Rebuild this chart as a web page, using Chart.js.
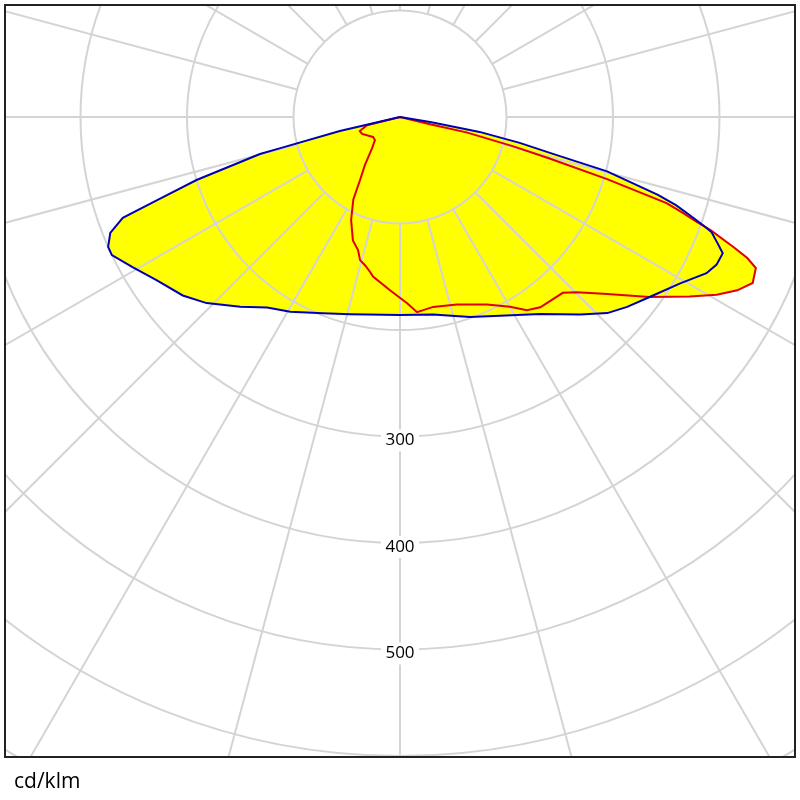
<!DOCTYPE html>
<html>
<head>
<meta charset="utf-8">
<script src="https://cdn.jsdelivr.net/npm/chart.js@4.4.1/dist/chart.umd.min.js"></script>
<style>
html, body { margin: 0; padding: 0; background: #fff; }
</style>
</head>
<body>
<canvas id="polarChart" width="800" height="800"></canvas>
<script>
// angles are measured from nadir in degrees, negative = left half of the plane
// C0-C180 plane (blue)
const blueAngles = [-90, -77, -75.4, -75.2, -72.8, -71.1, -70, -68.2, -66, -64.4, -60.7, -56.1, -50.6, -46.1, -40.1, -34.9, -29.4, -21.4, -14.2, 0, 9.5, 19.3, 26.7, 35.4, 42.4, 46.6, 50.1, 54.2, 59.3, 63, 65, 67.1, 68.3, 69.7, 70.3, 71.3, 72.3, 73.2, 75.3, 76.4, 77.8, 79.4, 80.5, 90];
const blueValues = [0, 58, 116, 136, 200, 241, 277, 293, 300, 300, 288, 275, 264, 252, 233, 218, 210, 198, 191, 186, 188, 199, 209, 227, 251, 268, 278, 289, 306, 323, 328, 329, 321, 312, 303, 287, 272, 253, 201, 150, 115, 76, 30, 0];

// C90-C270 plane (red)
const redAngles = [-90, -76, -70.7, -65.9, -53.5, -47.4, -42, -36.1, -32.4, -29.5, -25.4, -20.9, -17.5, -15.6, -13.3, -11, -9.6, -3.3, 2.2, 5, 9.9, 16.9, 24.9, 30.1, 33.3, 36.4, 42.8, 45.3, 49.5, 54.2, 58.2, 60.7, 62.8, 64.8, 67, 67.9, 68.7, 70, 70.5, 71.3, 72.1, 73.3, 74.5, 75.5, 77, 76.5, 90];
const redValues = [0, 32, 40, 39, 31.5, 32, 39, 56, 70, 89, 107, 124, 131, 139.5, 143, 148, 152, 163, 175, 184, 181, 184, 194, 206, 217, 222, 225, 234, 256, 289, 320, 341, 356, 366, 363, 352, 336, 310, 296, 280, 263, 203, 145, 110, 64, 30, 0];

const rings = [100, 200, 300, 400, 500, 600, 700];
const ringLabels = [300, 400, 500];
const spokeStep = 15;
const unitLabel = "cd/klm";

function toXY(angles, values) {
    return angles.map((a, i) => {
        let rad = a * Math.PI / 180;
        return { x: values[i] * Math.sin(rad), y: -values[i] * Math.cos(rad) };
    });
}

// grid goes over the yellow fill but under the curves
const polarGrid = {
    id: "polarGrid",
    beforeDatasetsDraw(chart) {
        const { ctx, chartArea, scales } = chart;
        const cx = scales.x.getPixelForValue(0);
        const cy = scales.y.getPixelForValue(0);
        const rad = v => scales.x.getPixelForValue(v) - cx;

        ctx.save();
        ctx.beginPath();
        ctx.rect(chartArea.left, chartArea.top, chartArea.width, chartArea.height);
        ctx.clip();

        ctx.strokeStyle = "#d4d4d4";
        ctx.lineWidth = 2;
        for (let r of rings) {
            ctx.beginPath();
            ctx.arc(cx, cy, rad(r), 0, Math.PI * 2);
            ctx.stroke();
        }
        const r0 = rad(rings[0]);
        const r1 = rad(900);
        for (let a = 0; a < 360; a += spokeStep) {
            let t = a * Math.PI / 180;
            ctx.beginPath();
            ctx.moveTo(cx + r0 * Math.sin(t), cy + r0 * Math.cos(t));
            ctx.lineTo(cx + r1 * Math.sin(t), cy + r1 * Math.cos(t));
            ctx.stroke();
        }

        ctx.font = "17px 'Open Sans'";
        ctx.textAlign = "center";
        ctx.textBaseline = "middle";
        for (let v of ringLabels) {
            let py = scales.y.getPixelForValue(-v) + 4;
            ctx.fillStyle = "#fff";
            ctx.fillRect(cx - 19, py - 11, 38, 22);
            ctx.fillStyle = "#000";
            ctx.fillText(String(v), cx, py);
        }
        ctx.restore();
    },
    afterDraw(chart) {
        const { ctx, chartArea } = chart;
        ctx.save();
        ctx.strokeStyle = "#222";
        ctx.lineWidth = 2;
        ctx.strokeRect(chartArea.left, chartArea.top, chartArea.width, chartArea.height);
        ctx.fillStyle = "#000";
        ctx.font = "21px 'Open Sans'";
        ctx.textAlign = "left";
        ctx.textBaseline = "alphabetic";
        ctx.fillText(unitLabel, 14, 788);
        ctx.restore();
    }
};

const canvas = document.getElementById("polarChart");

new Chart(canvas.getContext("2d"), {
    type: "line",
    data: {
        datasets: [
            {
                label: "C0-C180",
                data: toXY(blueAngles, blueValues),
                borderColor: "#0000b4",
                backgroundColor: "#ffff00",
                borderWidth: 2,
                fill: "shape",
                pointRadius: 0,
                tension: 0
            },
            {
                label: "C90-C270",
                data: toXY(redAngles, redValues),
                borderColor: "#e00000",
                backgroundColor: "#ffff00",
                borderWidth: 2,
                fill: "shape",
                pointRadius: 0,
                tension: 0
            }
        ]
    },
    options: {
        responsive: false,
        animation: false,
        layout: { padding: { left: 5, right: 5, top: 5, bottom: 43 } },
        scales: {
            x: { type: "linear", min: -370.9, max: 370.9, display: false },
            y: { type: "linear", min: -601, max: 105.2, display: false }
        },
        plugins: {
            legend: { display: false },
            tooltip: { enabled: false },
            filler: { drawTime: "beforeDatasetsDraw" }
        }
    },
    plugins: [polarGrid]
});
</script>
</body>
</html>
